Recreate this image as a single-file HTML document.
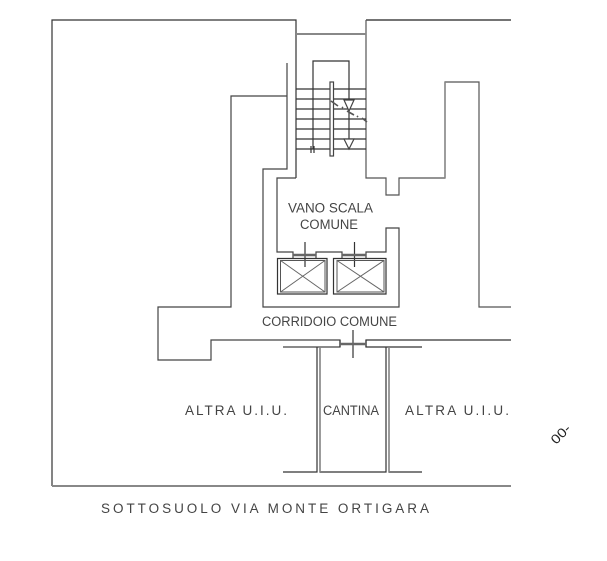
<!DOCTYPE html>
<html><head><meta charset="utf-8"><style>
html,body{margin:0;padding:0;background:#fff}
svg{display:block}
text{font-family:"Liberation Sans",sans-serif;font-size:13.5px;fill:#444;font-weight:400}
</style></head><body>
<svg width="607" height="561" viewBox="0 0 607 561" xmlns="http://www.w3.org/2000/svg">
<rect width="607" height="561" fill="#fff"/>
<g fill="none" stroke="#333" stroke-width="1.2">
<path d="M296 178V20H52V486" stroke="#333"/>
<path d="M366 20H511" stroke="#222"/>
<path d="M366 20V178H386V195H399V178H445V82H479V307H511" stroke="#555"/>
<path d="M287 63V169H263V307H399V228H386V252H366V258M342 258V252H316V258M293 258V252H277V178H296" stroke="#444"/>
<path d="M287 96H231V307H158V360H211V340H340V347H283" stroke="#444"/>
<path d="M511 340H366V347H422"/>
<path d="M340 340V347M366 340V347"/>
<path d="M283 472H317V347M320 347V472H386V347M389 347V472H422" stroke="#333"/>
<path d="M313 149V61H349V149"/>
<path d="M296 89H366M296 99H366M296 109H366M296 119H366M296 129H366M296 139H366M296 149H366"/>
<path d="M344 100H354L349 111ZM344 139H354L349 149Z" fill="#fff" stroke="#444"/>
<rect x="330" y="82" width="3.5" height="74" fill="#fff" stroke="#444"/>
<path d="M311 146V153M314 146V153"/>
<path d="M331 101L338 106M342 107L343 108M347 111L354 115M357 116L358 117M362 118L367 122" stroke-width="1.6" stroke="#555"/>
<path d="M305 242V267M354.500 242V267M353 330V358"/>
<path d="M277.500 258.500H327V294H277.500ZM333.500 258.500H386V294H333.500Z"/>
<path d="M280.500 260.500H325V292H280.500ZM337 260.500H384V292H337Z" stroke="#555" stroke-width="1"/>
<path d="M280.500 260.500L325 292M325 260.500L280.500 292M337 260.500L384 292M384 260.500L337 292" stroke="#666" stroke-width="1"/>
</g>
<g fill="none" stroke="#888">
<path d="M296 34H366" stroke-width="2"/>
<path d="M52 486H511" stroke-width="2"/>
<path d="M293 255H316M342 255H366M340 344H366" stroke-width="2.500" stroke="#666"/>
<path d="M320 347V472M389 347V472" stroke-width="1.500"/>
<path d="M445 82V178" stroke-width="1.500"/>
</g>
<text x="288" y="212.500" textLength="85" lengthAdjust="spacingAndGlyphs">VANO SCALA</text>
<text x="300" y="229" textLength="58" lengthAdjust="spacingAndGlyphs">COMUNE</text>
<text x="262" y="326" textLength="135" lengthAdjust="spacingAndGlyphs">CORRIDOIO COMUNE</text>
<text x="185" y="415" textLength="102" lengthAdjust="spacing">ALTRA U.I.U.</text>
<text x="323" y="415" textLength="56" lengthAdjust="spacingAndGlyphs">CANTINA</text>
<text x="405" y="415" textLength="104" lengthAdjust="spacing">ALTRA U.I.U.</text>
<text x="101" y="513" textLength="328" lengthAdjust="spacing">SOTTOSUOLO VIA MONTE ORTIGARA</text>
<text x="0" y="0" transform="translate(556,445) rotate(-45)" style="font-size:13px;fill:#222" textLength="22" lengthAdjust="spacingAndGlyphs">00-</text>
</svg>
</body></html>
